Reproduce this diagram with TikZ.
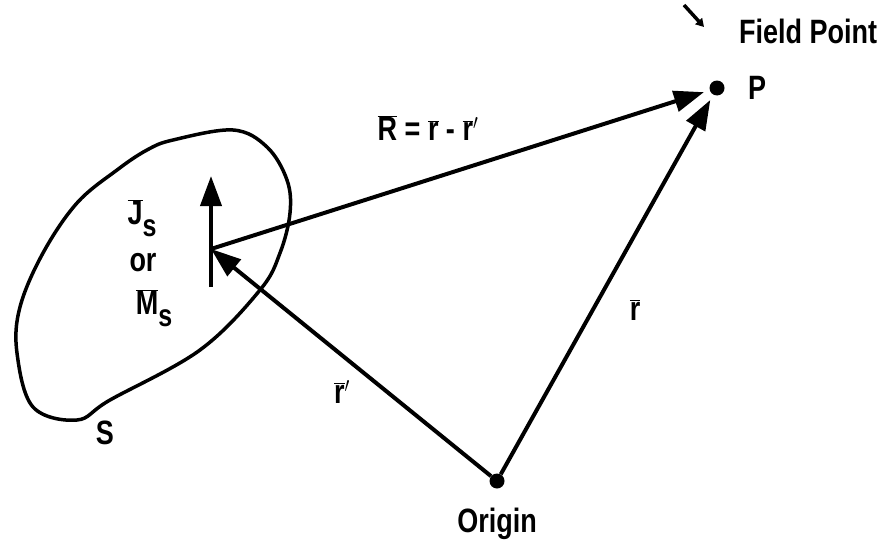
\documentclass[tikz,border=0pt]{standalone}
\usepackage{fontspec}
\setmainfont{Liberation Sans}
\usetikzlibrary{arrows.meta}
\newcommand{\ovl}[1]{$\overline{\mbox{#1}}$}
\newcommand{\subs}[1]{\raisebox{-0.35em}{\fontsize{25}{25}\selectfont #1}}
\newcommand{\tall}[1]{\scalebox{1}[1.25]{#1}}
\tikzset{
  vec/.style={line width=4pt, -{Triangle[length=30pt,width=21pt]}},
  lbl/.style={font=\fontsize{27}{30}\selectfont\bfseries, inner sep=0pt},
  dotn/.style={circle, fill=black, inner sep=0pt, minimum size=15pt},
}
\begin{document}
\begin{tikzpicture}[x=1pt,y=-1pt]
\useasboundingbox (0,0) rectangle (879,546);
% surface S
\draw[line width=3.5pt] plot[smooth cycle, tension=0.6] coordinates {
  (147,150) (173,140) (233,130) (267,147) (287,180) (290,213) (280,253)
  (260,290) (200,350) (110,400) (77,420) (33,407) (17,353) (20,307)
  (43,253) (77,203) (117,170)};
% points
\node[dotn] (P) at (717,88) {};
\node[dotn] (O) at (497,481) {};
\coordinate (src) at (211,249);
\coordinate (jb) at (211,287);
\coordinate (jt) at (211,176);
% vectors
\draw[vec] (jb) -- (jt);
\draw[vec, shorten >=6pt] (src) -- (P);
\draw[vec, shorten >=6pt] (O) -- (P);
\draw[vec] (O) -- (src);
% leader mark near Field Point
\coordinate (fa) at (684,5);
\coordinate (fb) at (704,27);
\draw[line width=3.5pt, -{Triangle[length=8pt,width=9pt]}] (fa) -- (fb);
% labels
\node[lbl] (fp) at (808,31) {\tall{Field Point}};
\node[lbl] (pl) at (757,88) {\tall{P}};
\node[lbl] (rl) at (428,128) {\tall{\ovl{R} = \ovl{r} - \ovl{r}$'$}};
\node[lbl] (js) at (142,218) {\tall{\ovl{J}\subs{s}}};
\node[lbl] (orl) at (143,263) {\tall{or}};
\node[lbl] (ms) at (154,308) {\tall{\ovl{M}\subs{s}}};
\node[lbl] (rv) at (635,310) {\tall{\ovl{r}}};
\node[lbl] (rp) at (342,392) {\tall{\ovl{r}$'$}};
\node[lbl] (sl) at (105,433) {\tall{S}};
\node[lbl] (ol) at (497,524) {\tall{Origin}};
\end{tikzpicture}
\end{document}
